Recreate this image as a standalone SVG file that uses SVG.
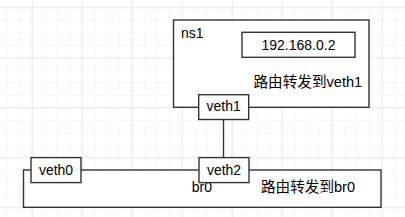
<svg xmlns="http://www.w3.org/2000/svg" width="405" height="217" viewBox="0 0 405 217">
<defs>
<pattern id="minor" patternUnits="userSpaceOnUse" x="6.67" y="-5.17" width="12.5" height="12.5">
<path d="M0 0 V12.5 M0 0 H12.5" stroke="#efefef" stroke-width="1" fill="none"/>
</pattern>
<pattern id="major" patternUnits="userSpaceOnUse" x="31.67" y="7.33" width="50" height="50">
<path d="M0 0 V50 M0 0 H50" stroke="#d9d9d9" stroke-width="1" fill="none"/>
</pattern>
</defs>
<style>
.box{fill:#fff;stroke:#333;stroke-width:1.4}
.t{font-family:"Liberation Sans",Arial,"Noto Sans CJK SC",sans-serif;font-size:14px;fill:#000}
.c{text-anchor:middle}
.cjk{font-family:"Liberation Sans",Arial,"Noto Sans CJK SC",sans-serif;font-size:14.6px;fill:#000}
.edge{stroke:#333;stroke-width:1.4;fill:none}
</style>
<rect width="405" height="217" fill="#fff"/>
<rect width="405" height="217" fill="url(#minor)"/>
<rect width="405" height="217" fill="url(#major)"/>
<g id="ns1">
<rect class="box" x="173.5" y="20" width="195.5" height="87.3"/>
<text class="t" x="181" y="37.5">ns1</text>
<text class="cjk" x="253.5" y="87">路由转发到veth1</text>
</g>
<g id="ip">
<rect class="box" x="242" y="32.3" width="113" height="25"/>
<text class="t c" x="298.5" y="50">192.168.0.2</text>
</g>
<g id="br0">
<rect class="box" x="23.5" y="170" width="357.5" height="37.3"/>
<text class="t" x="191.7" y="191.7">br0</text>
<text class="cjk" x="261" y="191.7">路由转发到br0</text>
</g>
<g id="connectors">
<line class="edge" x1="223.5" y1="119.3" x2="223.5" y2="157.3"/>
</g>
<g id="veth1">
<rect class="box" x="198.7" y="94.7" width="50" height="24.8"/>
<text class="t c" x="223.7" y="110.6">veth1</text>
</g>
<g id="veth2">
<rect class="box" x="199" y="157.6" width="50" height="25"/>
<text class="t c" x="224" y="175.2">veth2</text>
</g>
<g id="veth0">
<rect class="box" x="31" y="157.6" width="50" height="25"/>
<text class="t c" x="56" y="175.2">veth0</text>
</g>
</svg>
